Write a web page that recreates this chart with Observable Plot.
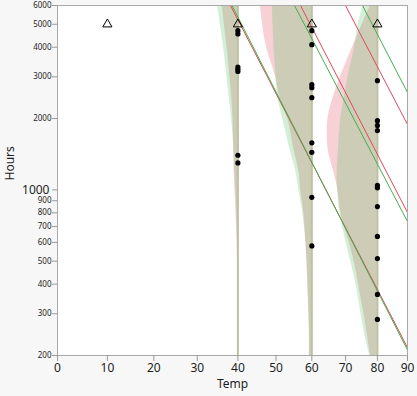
<!DOCTYPE html>
<html><head><meta charset="utf-8">
<script src="https://cdn.jsdelivr.net/npm/d3@7"></script>
<script src="https://cdn.jsdelivr.net/npm/@observablehq/plot@0.6"></script>
<style>body{margin:0;background:#f7f7f7}</style>
</head><body><div id="chart"></div>
<script>
// ---- data ----
const xTicks = [0, 10, 20, 30, 40, 50, 60, 70, 80, 90];
const yTicksSmall = [200, 300, 400, 500, 600, 700, 800, 900, 2000, 3000, 4000, 5000, 6000];
const yTicksMajor = [1000];

const levels = [40, 60, 80];
const hours40 = [4700, 4550, 3300, 3230, 3160, 1400, 1300];
const hours60 = [4700, 4100, 2780, 2700, 2450, 1580, 1440, 930, 580];
const hours80 = [2890, 1960, 1870, 1780, 1045, 1020, 850, 636, 513, 362, 284];

const censoredTemps = [10, 40, 60, 80];
const censoredHours = [5000, 5000, 5000, 5000];

// density curves: left edge (in Temp units) at each Hours level
const densityHours = [6000, 5000, 4000, 3000, 2500, 2000, 1500, 1200, 1000, 800, 600, 500, 400, 300, 250, 200];
const greenEdge40 = [34.9, 35.6, 36.4, 37.25, 37.75, 38.4, 39.0, 39.25, 39.5, 39.75, 39.9, 39.93, 39.95, 39.97, 39.97, 39.97];
const redEdge40   = [36.1, 36.6, 37.25, 38.0, 38.4, 38.75, 38.9, 39.05, 39.25, 39.5, 39.8, 39.9, 39.95, 39.97, 39.97, 39.97];
const greenEdge60 = [49.05, 49.2, 49.45, 50.0, 50.4, 51.8, 53.75, 55.45, 56.3, 57.4, 58.3, 58.6, 58.85, 59.15, 59.3, 59.4];
const redEdge60   = [45.85, 46.4, 47.45, 49.9, 50.95, 53.2, 54.85, 56.3, 56.85, 57.7, 58.3, 58.6, 58.85, 59.15, 59.3, 59.3];
const greenEdge80 = [75.47, 73.9, 72.76, 70.74, 69.73, 68.53, 67.85, 67.46, 67.55, 68.3, 70.13, 71.57, 73.22, 74.78, 75.82, 77.55];
const redEdge80   = [77.77, 75.16, 72.13, 68.46, 66.45, 64.7, 64.7, 66.36, 67.67, 68.55, 71.14, 72.6, 74.0, 75.72, 76.66, 77.77];

// quantile lines: each enters at (startTemp, 6000 h) and leaves at (90 °C, endHours)
const redLineStartTemps = [38.13, 56.77, 69.97];
const redLineEndHours = [216, 802, 1887];
const greenLineStartTemps = [38.51, 55.08, 75.24];
const greenLineEndHours = [211, 735, 2575];

// ---- build tables ----
const arr = T => 1 / (T + 273.15); // Arrhenius axis
const points = [
  ...hours40.map(h => ({temp: 40, hours: h})),
  ...hours60.map(h => ({temp: 60, hours: h})),
  ...hours80.map(h => ({temp: 80, hours: h}))
];
const censored = censoredTemps.map((t, i) => ({temp: t, hours: censoredHours[i]}));
const mkDens = (edges, temp) => densityHours.map((h, i) => ({temp, hours: h, edge: edges[i]}));
const redDens = [...mkDens(redEdge40, 40), ...mkDens(redEdge60, 60), ...mkDens(redEdge80, 80)];
const greenDens = [...mkDens(greenEdge40, 40), ...mkDens(greenEdge60, 60), ...mkDens(greenEdge80, 80)];
const mkLines = (starts, ends) => starts.flatMap((t, i) => [
  {id: i, temp: t, hours: 6000},
  {id: i, temp: 90, hours: ends[i]}
]);
const redLines = mkLines(redLineStartTemps, redLineEndHours);
const greenLines = mkLines(greenLineStartTemps, greenLineEndHours);

const RED = "#e0485a", GREEN = "#45ad4f";
const TXT = "#1e1e1e";

const chart = Plot.plot({
  width: 417, height: 396,
  marginLeft: 57, marginRight: 10, marginTop: 5, marginBottom: 41,
  style: {background: "#f7f7f7", fontFamily: "'Noto Sans', 'DejaVu Sans', sans-serif", color: TXT},
  x: {type: "linear", domain: [arr(0), arr(90)]},
  y: {type: "log", domain: [200, 6000]},
  marks: [
    Plot.frame({fill: "white", stroke: "none"}),
    Plot.areaX(redDens, {y: "hours", x1: d => arr(d.edge), x2: d => arr(d.temp), z: "temp", fill: RED, fillOpacity: 0.25, curve: "catmull-rom"}),
    Plot.areaX(greenDens, {y: "hours", x1: d => arr(d.edge), x2: d => arr(d.temp), z: "temp", fill: "#50be5a", fillOpacity: 0.25, curve: "catmull-rom"}),
    Plot.ruleX(levels, {x: d => arr(d), stroke: "#bfc2a0", strokeWidth: 2}),
    Plot.line(redLines, {x: d => arr(d.temp), y: "hours", z: "id", stroke: RED, strokeWidth: 1}),
    Plot.line(greenLines, {x: d => arr(d.temp), y: "hours", z: "id", stroke: GREEN, strokeWidth: 1}),
    Plot.dot(points, {x: d => arr(d.temp), y: "hours", r: 2.6, fill: "black"}),
    Plot.dot(censored, {x: d => arr(d.temp), y: "hours", symbol: "triangle", r: 3.4, stroke: "black", fill: "none", strokeWidth: 1}),
    Plot.frame({stroke: "#a8a8a8", strokeWidth: 1}),
    Plot.axisX({ticks: xTicks.map(arr), tickFormat: u => String(Math.round(1 / u - 273.15)), tickSize: 6, tickPadding: 2, fontSize: 12, stroke: "#999", label: null}),
    Plot.axisY({ticks: [...yTicksSmall, ...yTicksMajor], tickFormat: () => "", tickSize: 5, stroke: "#999", label: null}),
    Plot.text(yTicksSmall, {y: d => d, text: d => String(d), frameAnchor: "left", dx: -6, textAnchor: "end", fontSize: 8, fill: TXT}),
    Plot.text(yTicksMajor, {y: d => d, text: d => String(d), frameAnchor: "left", dx: -8, textAnchor: "end", fontSize: 12, fill: TXT}),
    Plot.text(["Temp"], {frameAnchor: "bottom", dy: 32, fontSize: 12, fill: TXT}),
    Plot.text(["Hours"], {frameAnchor: "left", dx: -47, rotate: -90, fontSize: 12, fill: TXT})
  ]
});
document.getElementById("chart").appendChild(chart);
</script>
</body></html>
